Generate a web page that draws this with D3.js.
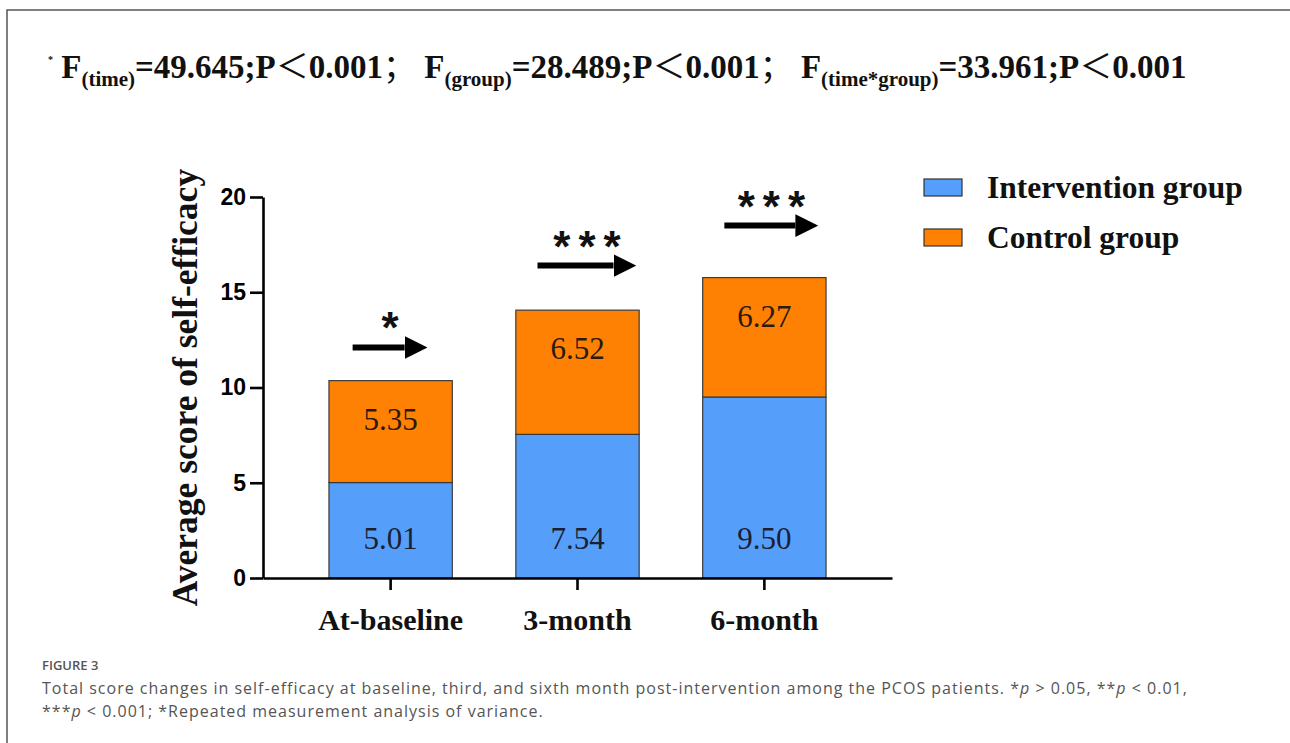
<!DOCTYPE html>
<html>
<head>
<meta charset="utf-8">
<script src="https://cdn.jsdelivr.net/npm/d3@7"></script>
<style>
body{margin:0;background:#fff;}
svg{display:block;}
</style>
</head>
<body>
<script>
let width = 1290;
let height = 743;

// data
let times = ["At-baseline", "3-month", "6-month"];
let intervention = [5.01, 7.54, 9.50];
let control = [5.35, 6.52, 6.27];
let groups = ["Intervention group", "Control group"];
let stars = ["*", "***", "***"];
let arrowLevel = [12.1, 16.4, 18.5];
let arrowLen = [75, 99, 94];
let yTicks = [0, 5, 10, 15, 20];

let colors = {"Intervention group": "#559ffb", "Control group": "#ff8103"};

let serif = "'Liberation Serif','Times New Roman',serif";
let cjk = "'Noto Sans CJK SC',sans-serif";

let svg = d3.select("body").append("svg")
  .attr("width", width)
  .attr("height", height);

// frame
svg.append("path")
  .attr("d", "M7,743 L7,10 L1290,10")
  .attr("fill", "none")
  .attr("stroke", "#555")
  .attr("stroke-width", 1.5);

// statistic header
let head = svg.append("text")
  .attr("x", 48).attr("y", 78)
  .style("font-family", serif)
  .style("font-weight", "bold")
  .style("font-size", "33px")
  .attr("fill", "#111");
let parts = [
  ["*", "sup"], [" F", ""], ["(time)", "sub"], ["=49.645;P", ""], ["＜", "cjk"], ["0.001", ""], ["；", "cjk"],
  [" F", ""], ["(group)", "sub"], ["=28.489;P", ""], ["＜", "cjk"], ["0.001", ""], ["；", "cjk"],
  [" F", ""], ["(time*group)", "sub"], ["=33.961;P", ""], ["＜", "cjk"], ["0.001", ""]
];
let shift = 0;
parts.forEach(p => {
  let dy = 0, fs = 33;
  if (p[1] == "sub") { dy = 8 - shift; fs = 21; shift = 8; }
  else if (p[1] == "sup") { dy = -15 - shift; fs = 10; shift = -15; }
  else { dy = -shift; shift = 0; }
  let ts = head.append("tspan").attr("dy", dy).style("font-size", fs + "px").text(p[0]);
  if (p[1] == "cjk") ts.style("font-family", cjk).style("font-weight", "normal");
});

let x = d3.scaleBand().domain(times).range([263, 892]).paddingInner(0.34).paddingOuter(0.353);
let y = d3.scaleLinear().domain([0, 20]).range([578, 197]);

let rows = times.map((t, i) => ({t: t, a: intervention[i], b: control[i]}));

let g = svg.append("g");

// stacked bars
let stack = d3.stack().keys(groups)
  (rows.map(r => ({t: r.t, "Intervention group": r.a, "Control group": r.b})));

stack.forEach(layer => {
  g.selectAll(null).data(layer).enter().append("rect")
    .attr("x", d => x(d.data.t))
    .attr("y", d => y(d[1]))
    .attr("width", x.bandwidth())
    .attr("height", d => y(d[0]) - y(d[1]))
    .attr("fill", colors[layer.key])
    .attr("stroke", "#3a3a3a")
    .attr("stroke-width", 1.2);
});

// value labels
g.selectAll(null).data(rows).enter().append("text")
  .attr("x", d => x(d.t) + x.bandwidth() / 2)
  .attr("y", y(2) + 9)
  .attr("text-anchor", "middle")
  .style("font-family", serif).style("font-size", "31px")
  .attr("fill", "#1c1f33")
  .text(d => d.a.toFixed(2));
g.selectAll(null).data(rows).enter().append("text")
  .attr("x", d => x(d.t) + x.bandwidth() / 2)
  .attr("y", d => y(d.a + d.b) + 49)
  .attr("text-anchor", "middle")
  .style("font-family", serif).style("font-size", "31px")
  .attr("fill", "#2a1a10")
  .text(d => d.b.toFixed(2));

// axes
let yAxis = d3.axisLeft(y).tickValues(yTicks).tickSize(13).tickPadding(4).tickSizeOuter(0);
let ya = svg.append("g").attr("transform", "translate(263,0)").call(yAxis);
let xAxis = d3.axisBottom(x).tickSize(12).tickPadding(10).tickSizeOuter(0);
let xa = svg.append("g").attr("transform", "translate(0,578)").call(xAxis);

[ya, xa].forEach(a => {
  a.selectAll("path, line").attr("stroke", "#000").attr("stroke-width", 2.6);
});
ya.selectAll("text")
  .style("font-family", "'Liberation Sans',Arial,sans-serif")
  .style("font-weight", "bold").style("font-size", "23px").attr("fill", "#000");
xa.selectAll("text")
  .attr("dy", "1.0em")
  .style("font-family", serif)
  .style("font-weight", "bold").style("font-size", "30px").attr("fill", "#111");

svg.append("text")
  .attr("transform", "translate(197," + y(10) + ") rotate(-90)")
  .attr("text-anchor", "middle")
  .style("font-family", serif).style("font-weight", "bold").style("font-size", "35.5px")
  .attr("fill", "#111")
  .text("Average score of self-efficacy");

// significance arrows
svg.append("defs").append("marker")
  .attr("id", "head").attr("viewBox", "0 0 10 10")
  .attr("refX", 0).attr("refY", 5)
  .attr("markerWidth", 3.8).attr("markerHeight", 3.8)
  .attr("markerUnits", "strokeWidth")
  .attr("orient", "auto")
  .append("path").attr("d", "M0,0 L10,5 L0,10 Z").attr("fill", "#000");

times.forEach((t, i) => {
  let cx = x(t) + x.bandwidth() / 2;
  let x0 = cx - 38 - (i > 0 ? 2 : 0);
  let ay = y(arrowLevel[i]);
  svg.append("line")
    .attr("x1", x0).attr("x2", x0 + arrowLen[i] - 23)
    .attr("y1", ay).attr("y2", ay)
    .attr("stroke", "#000").attr("stroke-width", 6)
    .attr("marker-end", "url(#head)");
  svg.append("text")
    .attr("x", x0 + arrowLen[i] / 2 + 4).attr("y", ay - 4)
    .attr("text-anchor", "middle")
    .style("font-family", "'Liberation Sans',Arial,sans-serif")
    .style("font-weight", "bold").style("font-size", "44px")
    .style("letter-spacing", "8px")
    .attr("fill", "#111")
    .text(stars[i]);
});

// legend
let leg = svg.append("g").attr("transform", "translate(924,179)");
groups.forEach((k, i) => {
  leg.append("rect")
    .attr("x", 0).attr("y", i * 50)
    .attr("width", 38).attr("height", 17)
    .attr("fill", colors[k]).attr("stroke", "#333").attr("stroke-width", 1.2);
  leg.append("text")
    .attr("x", 63).attr("y", i * 50 + 19)
    .style("font-family", serif).style("font-weight", "bold").style("font-size", "31.5px")
    .attr("fill", "#111")
    .text(k);
});

// caption
let cap = "'Open Sans','Noto Sans',sans-serif";
svg.append("text")
  .attr("x", 42).attr("y", 670)
  .style("font-family", cap).style("font-size", "13px").style("font-weight", "600")
  .attr("fill", "#555").text("FIGURE 3");
let l1 = svg.append("text").attr("x", 42).attr("y", 694)
  .style("font-family", cap).style("font-size", "16px").style("letter-spacing", "1px").attr("fill", "#555");
l1.append("tspan").text("Total score changes in self-efficacy at baseline, third, and sixth month post-intervention among the PCOS patients. *");
l1.append("tspan").style("font-style", "italic").text("p");
l1.append("tspan").text(" > 0.05, **");
l1.append("tspan").style("font-style", "italic").text("p");
l1.append("tspan").text(" < 0.01,");
let l2 = svg.append("text").attr("x", 42).attr("y", 717)
  .style("font-family", cap).style("font-size", "16px").style("letter-spacing", "1px").attr("fill", "#555");
l2.append("tspan").text("***");
l2.append("tspan").style("font-style", "italic").text("p");
l2.append("tspan").text(" < 0.001; *Repeated measurement analysis of variance.");
</script>
</body>
</html>
